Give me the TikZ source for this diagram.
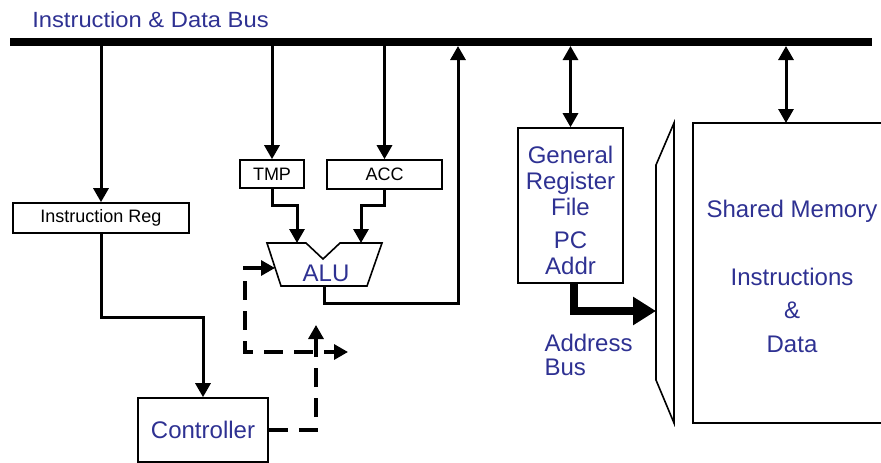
\documentclass[tikz,border=0pt]{standalone}
\usepackage{fontspec}
\setmainfont{Liberation Sans}
\usetikzlibrary{arrows.meta}
\definecolor{labelblue}{RGB}{46,49,146}
\tikzset{
	reg/.style={draw, line width=1.6pt, inner sep=0pt, font=\fontsize{18}{20}\selectfont},
	unit/.style={draw, line width=1.6pt, inner sep=0pt, align=center, text=labelblue, font=\fontsize{24}{26}\selectfont},
	bluetext/.style={text=labelblue, font=\fontsize{24}{24}\selectfont},
	wire/.style={line width=3pt, -{Triangle[length=14pt,width=15pt]}},
	duplex/.style={line width=3pt, {Triangle[length=14pt,width=15pt]}-{Triangle[length=14pt,width=15pt]}},
	ctlwire/.style={line width=3.2pt, dash pattern=on 19pt off 11pt, -{Triangle[length=14pt,width=15pt]}}
}
\begin{document}
\begin{tikzpicture}[x=1pt,y=-1pt]
		\clip (0,0) rectangle (881,463);
		%Bus
		\draw[line width=8pt] (10,42) -- (872,42);
		\coordinate (busedge) at (0,46);
		\node[bluetext, font=\fontsize{22}{24}\selectfont] (buslabel) at (150.5,19.5) {\scalebox{1.08}[1]{Instruction \& Data Bus}};
		
		%Registros
		\node[reg, minimum width=176pt, minimum height=30pt] (ireg) at (101,218) {Instruction Reg};
		\node[reg, minimum width=64pt, minimum height=28pt] (tmp) at (272,174) {TMP};
		\node[reg, minimum width=115pt, minimum height=29pt] (acc) at (384.5,174.5) {ACC};
		\node[unit, minimum width=130pt, minimum height=64pt] (ctrl) at (203,430) {Controller};
		\node[unit, minimum width=105pt, minimum height=155pt] (grf) at (570.5,205.5) {};
		\node[bluetext, align=center, font=\fontsize{24}{26}\selectfont] (grftext) at (570.5,210.5) {General\\Register\\File\\[7pt]PC\\Addr};
		\node[unit, minimum width=198pt, minimum height=300pt] (mem) at (792,273) {};
		\node[bluetext, align=center, font=\fontsize{24}{33.8}\selectfont] (memtext) at (792,276.5) {Shared Memory\\ \\Instructions\\\&\\Data};
		
		%ALU
		\draw[line width=1.6pt] (267,243) -- (306,243) -- (323,259) -- (340,243) -- (382,243) -- (367,286) -- (281,286) -- cycle;
		\node[bluetext] (alu) at (326,273) {ALU};
		\coordinate (alu-in1) at (297,243);
		\coordinate (alu-in2) at (361,243);
		\coordinate (alu-out) at (324,286);
		\coordinate (alu-ctl) at (275,268);
		
		%Mux
		\draw[line width=1.6pt] (674,123) -- (656,165) -- (656,380) -- (674,423) -- cycle;
		\coordinate (mux-in) at (656,311);
		\node[bluetext, anchor=west, align=left] (addrbus) at (541,355) {Address\\Bus};
		
		%Conexiones al bus
		\draw[wire] (busedge -| ireg.north) -- (ireg.north);
		\draw[wire] (busedge -| tmp.north) -- (tmp.north);
		\draw[wire] (busedge -| acc.north) -- (acc.north);
		\draw[duplex] (busedge -| grf.north) -- (grf.north);
		\draw[duplex] (busedge -| 786,0) -- (786,123);
		\draw[wire] (alu-out) -- ++(0,17) -| (busedge -| 458,0);
		
		%Entradas ALU
		\draw[wire] (tmp.south) -- ++(0,17) -| (alu-in1);
		\draw[wire] (acc.south) -- ++(0,16) -| (alu-in2);
		\draw[wire] (ireg.south) -- ++(0,84) -| (ctrl.north);
		
		%Bus de direcciones
		\draw[line width=8pt, -{Triangle[length=23pt,width=27pt]}] ([xshift=3.5pt]grf.south) |- (mux-in);
		
		%Control
		\coordinate (c-up) at (316,325);
		\coordinate (c-right) at (348,352);
		\draw[ctlwire] (ctrl.east) -| (c-up);
		\draw[ctlwire, {Triangle[length=14pt,width=15pt]}-{Triangle[length=14pt,width=15pt]}] (alu-ctl) -| (245,352) -- (c-right);
	\end{tikzpicture}
\end{document}
